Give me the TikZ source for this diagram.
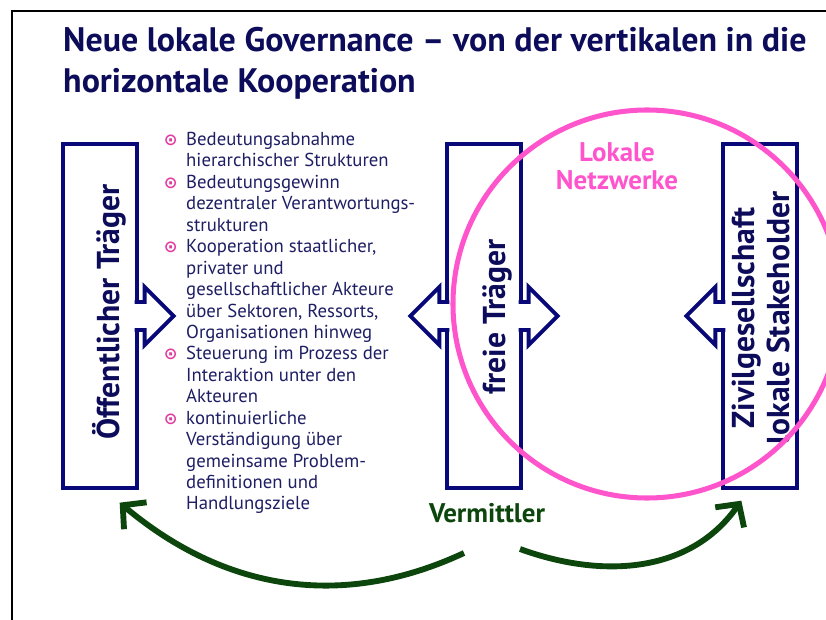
\documentclass[tikz,border=0pt]{standalone}
\usepackage{fontspec}
\setmainfont{PT Sans}
\newfontfamily\zeichenfont{DejaVu Sans}
\usepackage{xcolor}
\usetikzlibrary{calc, arrows.meta}

\definecolor{navy}{RGB}{8,8,120}
\definecolor{textblau}{RGB}{30,30,100}
\definecolor{titelblau}{RGB}{12,12,90}
\definecolor{netzpink}{RGB}{255,85,204}
\definecolor{dunkelgruen}{RGB}{12,70,12}
\definecolor{punktpink}{RGB}{225,60,160}

\newcommand{\punkt}{\leavevmode\llap{\makebox[19pt][l]{\zeichenfont\bfseries\fontsize{14}{14}\selectfont\color{punktpink}⊙}}}

\begin{document}
\begin{tikzpicture}[
        x=0.03cm, y=-0.03cm,
        traeger/.style={rectangle, draw=navy, line width=3.4pt, minimum width=2.2cm, minimum height=10.3cm, inner sep=0pt, outer sep=0pt},
        balken/.style={draw=navy, line width=3.4pt, fill=white, line join=miter},
        boxtext/.style={rotate=90, font=\fontsize{27}{30}\selectfont\bfseries, text=titelblau, align=center},
        bogen/.style={draw=dunkelgruen, line width=5pt, -{Straight Barb[length=14pt, width=30pt, line width=5pt]}}
    ]
        \useasboundingbox (0,0) rectangle (826,620);
        % Frame of the slide
        \draw[line width=1.7pt] (12,640) -- (12,11) -- (850,11);

        % Title
        \node[anchor=north west, inner sep=0pt, align=left, text=titelblau, font=\fontsize{29}{35}\selectfont\bfseries] (titel) at (63,27)
            {Neue lokale Governance – von der vertikalen in die\\horizontale Kooperation};

        % The three bodies
        \node[traeger] (oeff) at (100,316) {};
        \node[traeger] (frei) at (484,316) {};
        \node[traeger] (zivil) at (760,316) {};

        % Block arrows out of the bodies
        \draw[balken] ($(oeff.east)+(-2,-14)$) -- ++(10,0) -- ++(0,-15) -- ++(29,29) -- ++(-29,29) -- ++(0,-15) -- ++(-10,0);
        \draw[balken] ($(frei.west)+(2,-14)$) -- ++(-10,0) -- ++(0,-15) -- ++(-29,29) -- ++(29,29) -- ++(0,-15) -- ++(10,0);
        \draw[balken] ($(frei.east)+(-2,-14)$) -- ++(10,0) -- ++(0,-15) -- ++(29,29) -- ++(-29,29) -- ++(0,-15) -- ++(-10,0);
        \draw[balken] ($(zivil.west)+(2,-14)$) -- ++(-10,0) -- ++(0,-15) -- ++(-29,29) -- ++(29,29) -- ++(0,-15) -- ++(10,0);

        % Texts in the bodies
        \node[boxtext] (oefftext) at (109,312) {Öffentlicher Träger};
        \node[boxtext] (freitext) at (497,317) {freie Träger};
        \node[boxtext] (ziviltext) at (761,318) {Zivilgesellschaft\\lokale Stakeholder};

        % List of points
        \node[anchor=north west, inner sep=0pt, align=left, text=textblau, font=\fontsize{16}{18.3}\selectfont] (liste) at (186,132)
            {\punkt Bedeutungsabnahme\\
             hierarchischer Strukturen\\
             \punkt Bedeutungsgewinn\\
             dezentraler Verantwortungs-\\
             strukturen\\
             \punkt Kooperation staatlicher,\\
             privater und\\
             gesellschaftlicher Akteure\\
             über Sektoren, Ressorts,\\
             Organisationen hinweg\\
             \punkt Steuerung im Prozess der\\
             Interaktion unter den\\
             Akteuren\\
             \punkt kontinuierliche\\
             Verständigung über\\
             gemeinsame Problem-\\
             definitionen und\\
             Handlungsziele};

        % Local networks
        \node[circle, draw=netzpink, line width=4.3pt, minimum size=11.64cm, inner sep=0pt, outer sep=0pt] (netz) at (647,304) {};
        \node[align=center, text=netzpink, font=\fontsize{23}{24}\selectfont\bfseries] (netztitel) at (617,166) {Lokale\\Netzwerke};

        % Mediator
        \node[text=dunkelgruen, font=\fontsize{23}{26}\selectfont\bfseries] (verm) at (487,513) {Vermittler};
        \coordinate (vl) at (464,553);
        \coordinate (vr) at (520,549);
        \draw[bogen] (vl) to[out=205, in=-40] ($(oeff.south east)+(-17,15)$);
        \draw[bogen] (vr) to[out=-20, in=235] ($(zivil.south west)+(18,13)$);
    \end{tikzpicture}
\end{document}
